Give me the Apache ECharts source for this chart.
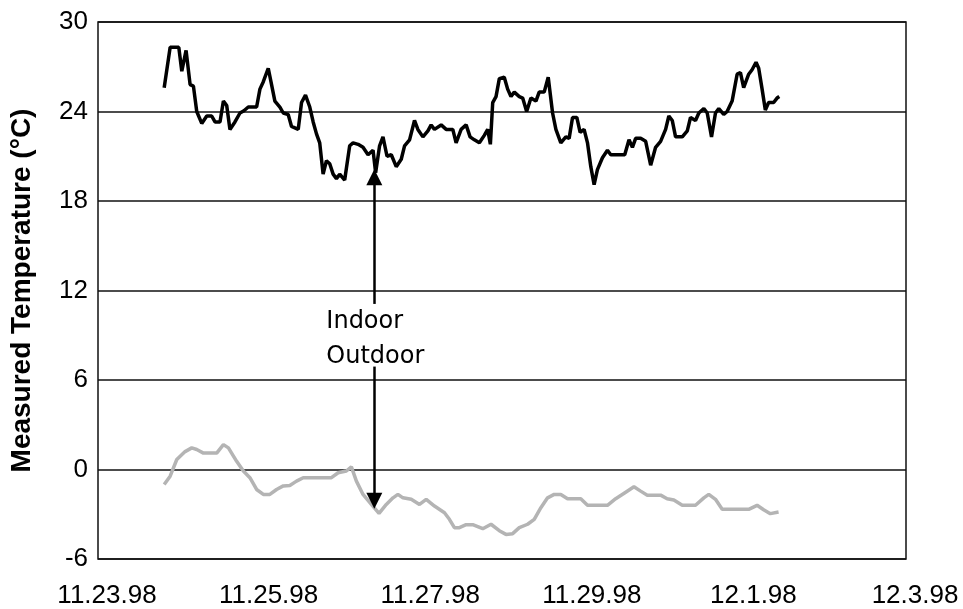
<!DOCTYPE html>
<html>
<head>
<meta charset="utf-8">
<script src="https://cdn.jsdelivr.net/npm/echarts@6/dist/echarts.min.js"></script>
<style>
  html, body { margin: 0; padding: 0; background: #fff; }
  #chart { width: 963px; height: 609px; }
</style>
</head>
<body>
<div id="chart"></div>
<script>
// x = days since 11.23.98
var tickLabels = ['11.23.98', '11.25.98', '11.27.98', '11.29.98', '12.1.98', '12.3.98']

var indoorDays = [0.819, 0.893, 1.000, 1.037, 1.090, 1.140, 1.181, 1.222, 1.284, 1.346, 1.407, 1.448, 1.510, 1.552, 1.593, 1.633, 1.695, 1.757, 1.806, 1.860,
  1.963, 2.004, 2.046, 2.107, 2.148, 2.189, 2.251, 2.293, 2.354, 2.395, 2.478, 2.519, 2.568, 2.621, 2.663, 2.704, 2.744, 2.786, 2.827, 2.868,
  2.910, 2.951, 2.991, 3.053, 3.115, 3.157, 3.219, 3.280, 3.342, 3.404, 3.436, 3.485, 3.527, 3.577, 3.630, 3.691, 3.753, 3.794, 3.856, 3.917,
  3.959, 4.021, 4.083, 4.123, 4.164, 4.247, 4.309, 4.391, 4.432, 4.494, 4.556, 4.605, 4.658, 4.720, 4.781, 4.823, 4.856, 4.885, 4.926, 4.967,
  5.028, 5.070, 5.111, 5.152, 5.214, 5.256, 5.305, 5.358, 5.420, 5.460, 5.522, 5.572, 5.626, 5.667, 5.728, 5.790, 5.831, 5.873, 5.926, 5.967,
  6.016, 6.058, 6.099, 6.140, 6.181, 6.243, 6.305, 6.346, 6.519, 6.572, 6.614, 6.654, 6.716, 6.778, 6.840, 6.901, 6.963, 7.025, 7.065, 7.107,
  7.148, 7.231, 7.293, 7.333, 7.395, 7.436, 7.498, 7.540, 7.593, 7.642, 7.683, 7.744, 7.786, 7.848, 7.910, 7.951, 7.991, 8.053, 8.095, 8.144,
  8.177, 8.219, 8.259, 8.300, 8.362, 8.404, 8.432]
var indoorTemps = [25.6, 28.3, 28.3, 26.7, 28.1, 25.8, 25.7, 24.0, 23.2, 23.7, 23.7, 23.3, 23.3, 24.7, 24.4, 22.8, 23.3, 23.9, 24.05, 24.3,
  24.3, 25.5, 26.0, 26.9, 25.8, 24.7, 24.3, 23.9, 23.8, 23.0, 22.8, 24.6, 25.1, 24.3, 23.3, 22.5, 21.9, 19.8, 20.7, 20.5,
  19.8, 19.5, 19.8, 19.4, 21.7, 21.9, 21.8, 21.6, 21.1, 21.4, 19.9, 21.7, 22.3, 21.0, 21.1, 20.3, 20.8, 21.7, 22.1, 23.4,
  22.8, 22.3, 22.7, 23.1, 22.8, 23.1, 22.8, 22.8, 21.9, 22.8, 23.1, 22.3, 22.1, 21.9, 22.4, 22.8, 21.8, 24.6, 25.0, 26.2,
  26.3, 25.5, 25.0, 25.3, 25.0, 24.9, 24.0, 24.9, 24.7, 25.3, 25.3, 26.3, 23.9, 22.8, 21.9, 22.3, 22.2, 23.6, 23.6, 22.6,
  22.8, 21.9, 20.3, 19.1, 20.1, 20.9, 21.4, 21.1, 21.1, 22.1, 21.6, 22.2, 22.2, 22.0, 20.4, 21.6, 22.0, 22.8, 23.7, 23.4,
  22.3, 22.3, 22.7, 23.6, 23.4, 23.9, 24.2, 23.9, 22.3, 23.9, 24.2, 23.8, 24.0, 24.7, 26.5, 26.6, 25.6, 26.5, 26.8, 27.3,
  26.9, 25.5, 24.1, 24.6, 24.6, 24.9, 25.0]

var outdoorDays = [0.819, 0.893, 0.975, 1.078, 1.160, 1.222, 1.305, 1.469, 1.552, 1.614, 1.716, 1.799, 1.880, 1.963, 2.046, 2.127, 2.210, 2.293, 2.374, 2.457,
  2.540, 2.889, 2.972, 3.074, 3.136, 3.198, 3.280, 3.383, 3.478, 3.568, 3.651, 3.712, 3.774, 3.877, 3.979, 4.062, 4.164, 4.288, 4.349, 4.411,
  4.473, 4.556, 4.638, 4.762, 4.864, 4.967, 5.049, 5.132, 5.214, 5.317, 5.399, 5.481, 5.564, 5.646, 5.728, 5.811, 5.975, 6.058, 6.305, 6.407,
  6.531, 6.633, 6.716, 6.798, 6.963, 7.044, 7.127, 7.231, 7.395, 7.498, 7.559, 7.642, 7.725, 8.053, 8.157, 8.238, 8.321, 8.423]
var outdoorTemps = [-1.0, -0.45, 0.67, 1.2, 1.45, 1.34, 1.1, 1.1, 1.67, 1.45, 0.55, -0.1, -0.55, -1.34, -1.67, -1.67, -1.34, -1.1, -1.07, -0.78,
  -0.55, -0.55, -0.22, -0.1, 0.18, -0.78, -1.67, -2.34, -2.94, -2.34, -1.9, -1.67, -1.9, -2.0, -2.34, -2.0, -2.45, -2.9, -3.34, -3.9,
  -3.9, -3.7, -3.7, -3.97, -3.67, -4.1, -4.35, -4.3, -3.9, -3.67, -3.34, -2.56, -1.9, -1.67, -1.67, -1.96, -1.96, -2.4, -2.4, -1.96,
  -1.52, -1.16, -1.45, -1.72, -1.72, -1.96, -2.05, -2.4, -2.4, -1.9, -1.67, -2.0, -2.67, -2.67, -2.4, -2.7, -2.96, -2.85]

// annotation arrows (day, temp)
var arrowDay = 3.42
var upArrow = [11.1, 19.6]
var downArrow = [6.9, -2.1]

function pairs(xs, ys) {
  return xs.map(function (x, i) { return [x, ys[i]] })
}

var chart = echarts.init(document.getElementById('chart'))

chart.setOption({
  animation: false,
  backgroundColor: '#fff',
  grid: {
    left: 96,
    right: 57,
    top: 22,
    bottom: 49,
    show: true,
    borderColor: '#111',
    borderWidth: 1.5
  },
  xAxis: {
    type: 'value',
    min: 0,
    max: 10,
    interval: 2,
    axisLine: { show: false },
    axisTick: { show: false },
    splitLine: { show: false },
    axisLabel: {
      margin: 24,
      fontSize: 26,
      color: '#000',
      fontFamily: 'Liberation Sans',
      padding: [0, 0, 0, 18],
      showMinLabel: true,
      showMaxLabel: true,
      formatter: function (v) { return tickLabels[Math.round(v / 2)] }
    }
  },
  yAxis: {
    type: 'value',
    min: -6,
    max: 30,
    interval: 6,
    name: 'Measured Temperature (°C)',
    nameLocation: 'middle',
    nameGap: 62,
    nameTextStyle: {
      fontSize: 28,
      fontWeight: 'bold',
      color: '#000',
      fontFamily: 'Liberation Sans'
    },
    axisLine: { show: false },
    axisTick: { show: false },
    splitLine: { lineStyle: { color: '#111', width: 1.5 } },
    axisLabel: {
      margin: 10,
      fontSize: 26,
      color: '#000',
      fontFamily: 'Liberation Sans',
      padding: [5, 0, 0, 0]
    }
  },
  series: [
    {
      name: 'Indoor',
      type: 'line',
      showSymbol: false,
      lineStyle: { color: '#000', width: 3.5 },
      data: pairs(indoorDays, indoorTemps),
      markLine: {
        silent: true,
        symbol: ['none', 'triangle'],
        symbolSize: [16, 16],
        lineStyle: { color: '#000', width: 2.5, type: 'solid' },
        label: { show: false },
        data: [[{ coord: [arrowDay, upArrow[0]] }, { coord: [arrowDay, upArrow[1]] }]]
      },
      markPoint: {
        silent: true,
        symbol: 'circle',
        symbolSize: 0,
        data: [{ coord: [arrowDay, 8.75] }],
        label: {
          show: true,
          position: 'inside',
          formatter: 'Indoor\nOutdoor',
          align: 'left',
          offset: [-48, 0],
          fontSize: 24,
          lineHeight: 35,
          color: '#000',
          fontFamily: 'DejaVu Sans'
        }
      }
    },
    {
      name: 'Outdoor',
      type: 'line',
      showSymbol: false,
      lineStyle: { color: '#b4b4b4', width: 3.5 },
      data: pairs(outdoorDays, outdoorTemps),
      markLine: {
        silent: true,
        symbol: ['none', 'triangle'],
        symbolSize: [16, 16],
        lineStyle: { color: '#000', width: 2.5, type: 'solid' },
        label: { show: false },
        data: [[{ coord: [arrowDay, downArrow[0]] }, { coord: [arrowDay, downArrow[1]] }]]
      }
    }
  ]
})
</script>
</body>
</html>
